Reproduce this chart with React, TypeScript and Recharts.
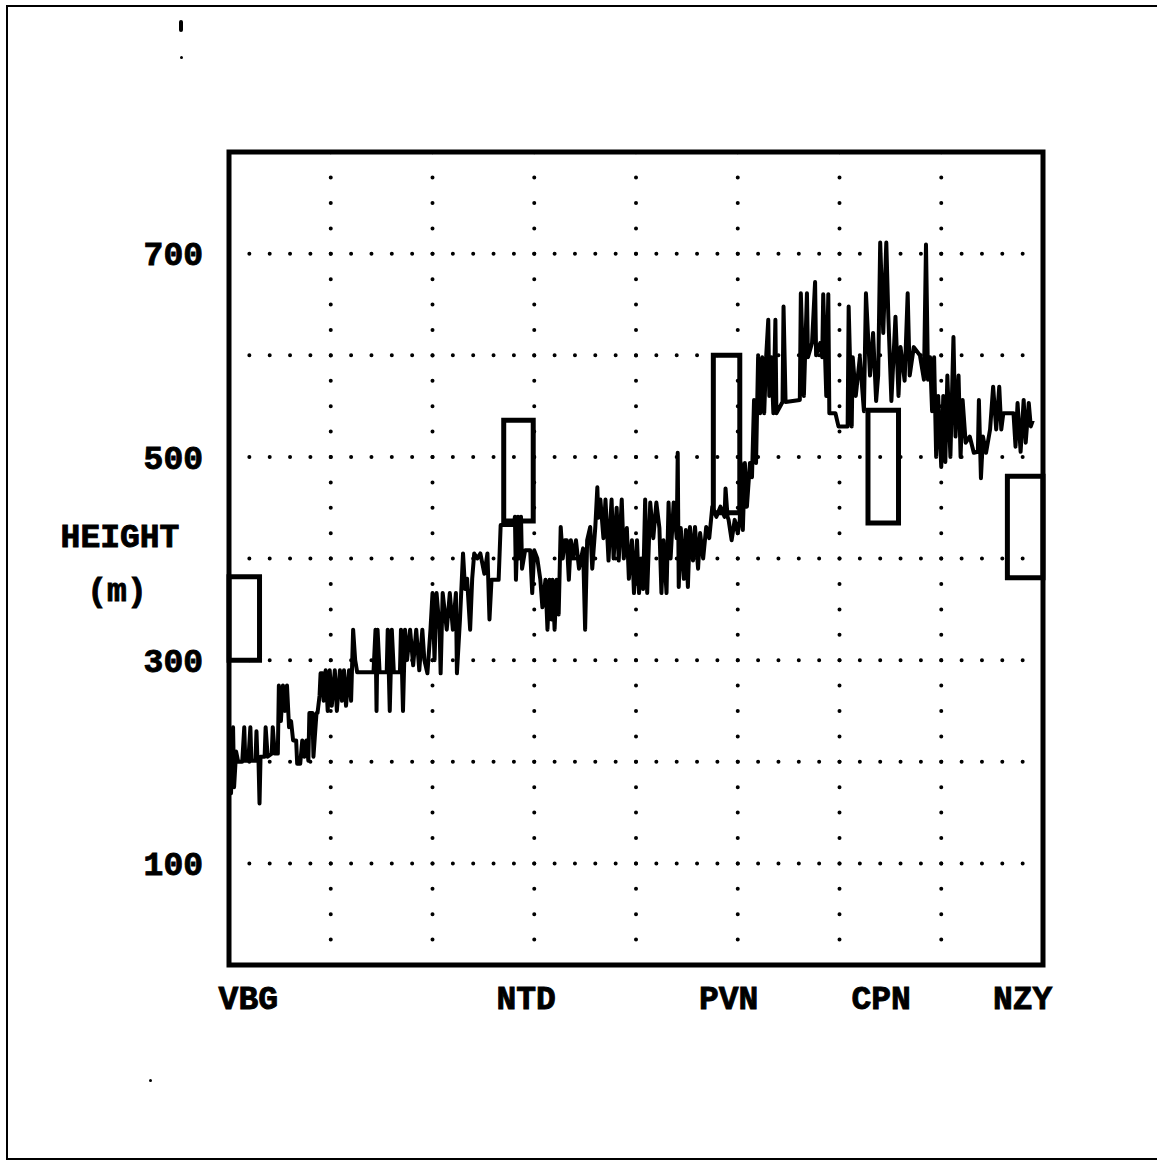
import React from 'react';
import { LineChart, Line, XAxis, YAxis, ReferenceArea, ReferenceLine } from 'recharts';

// Distance along the path (arbitrary units, VBG = 0 ... plot end = 800)
const distance = [
  0, 1, 2, 4, 5, 7, 9, 13, 15, 16, 19, 21, 22, 26, 27, 28, 29, 30, 31, 35, 36, 38, 42, 43, 45, 48, 49, 51, 53, 55,
  57, 59, 61, 63, 66, 67, 70, 72, 74, 76, 78, 79, 82, 83, 86, 87, 89, 90, 92, 93, 95, 97, 99, 101, 104, 106, 109, 111, 113, 115,
  118, 120, 122, 124, 126, 142, 144, 145, 146, 148, 155, 156, 158, 160, 162, 168, 169, 171, 173, 175, 178, 181, 184, 187, 190, 192, 195, 198, 200, 202,
  204, 207, 208, 210, 214, 217, 220, 223, 224, 227, 230, 232, 234, 237, 239, 241, 244, 247, 251, 254, 256, 258, 265, 267, 280, 281, 282, 284, 285, 287,
  288, 291, 296, 298, 300, 303, 306, 308, 311, 313, 315, 317, 318, 320, 322, 324, 326, 328, 330, 332, 334, 336, 338, 341, 344, 348, 350, 352, 355, 357,
  360, 362, 363, 365, 368, 370, 373, 375, 376, 378, 381, 383, 386, 388, 391, 393, 396, 398, 401, 403, 405, 407, 409, 411, 414, 417, 420, 423, 425, 427,
  430, 432, 434, 437, 440, 441, 442, 444, 447, 449, 451, 453, 456, 458, 461, 463, 466, 469, 472, 475, 479, 483, 487, 488, 490, 491, 494, 497, 500, 502,
  503, 505, 507, 509, 512, 514, 516, 518, 520, 522, 524, 526, 528, 530, 531, 533, 535, 537, 538, 544, 545, 547, 561, 562, 565, 568, 569, 573, 576, 577,
  581, 583, 584, 587, 589, 590, 596, 599, 608, 609, 612, 613, 616, 620, 624, 626, 630, 633, 636, 638, 640, 643, 646, 648, 651, 655, 658, 660, 664, 667,
  669, 673, 679, 683, 685, 687, 689, 691, 693, 695, 697, 700, 702, 704, 706, 709, 712, 714, 717, 719, 721, 724, 728, 732, 736, 737, 739, 741, 744, 748,
  751, 754, 757, 759, 761, 771, 773, 775, 778, 781, 783, 786, 788, 790,
];

// Terrain height (m)
const height = [
  180, 205, 169, 234, 175, 210, 200, 200, 234, 201, 201, 234, 201, 201, 230, 201, 201, 159, 205, 205, 234, 205, 208, 234, 208, 208, 275, 240, 275, 250,
  275, 234, 240, 221, 221, 198, 198, 221, 205, 221, 201, 248, 248, 205, 248, 248, 265, 287, 287, 260, 290, 250, 290, 255, 290, 250, 290, 260, 290, 255,
  290, 260, 330, 300, 288, 288, 330, 250, 330, 288, 288, 330, 250, 330, 288, 288, 330, 250, 330, 300, 330, 295, 330, 290, 330, 300, 287, 330, 366, 300,
  366, 330, 287, 366, 330, 366, 330, 366, 287, 340, 405, 370, 380, 330, 380, 405, 400, 405, 385, 405, 340, 379, 379, 433, 433, 441, 379, 441, 400, 441,
  390, 408, 408, 366, 408, 400, 379, 352, 379, 330, 379, 340, 379, 330, 379, 345, 431, 400, 418, 418, 379, 418, 400, 418, 390, 410, 330, 418, 431, 390,
  431, 470, 440, 458, 420, 458, 398, 440, 458, 400, 450, 398, 458, 400, 430, 380, 418, 366, 418, 366, 400, 370, 458, 366, 455, 420, 455, 430, 366, 418,
  366, 455, 400, 455, 420, 504, 372, 430, 380, 428, 372, 431, 398, 431, 390, 425, 400, 431, 420, 451, 441, 451, 441, 469, 441, 438, 418, 438, 425, 438,
  494, 428, 494, 451, 494, 480, 556, 494, 598, 543, 598, 543, 600, 635, 560, 598, 543, 635, 543, 554, 648, 554, 556, 661, 560, 661, 598, 612, 672, 600,
  612, 598, 660, 560, 660, 543, 543, 530, 530, 648, 530, 598, 560, 598, 545, 661, 580, 622, 555, 580, 711, 622, 711, 638, 555, 638, 560, 608, 575, 661,
  580, 608, 600, 576, 709, 576, 598, 545, 598, 500, 560, 490, 560, 495, 580, 500, 618, 520, 580, 500, 556, 514, 520, 504, 505, 556, 479, 520, 504, 527,
  569, 527, 569, 527, 543, 543, 510, 553, 505, 556, 514, 553, 530, 536,
];

// Stations: label, label position, and height-range boxes
const stationNames = ['VBG', 'NTD', 'PVN', 'CPN', 'NZY'];
const stationPos = [19, 292, 491, 641, 780];
const boxStart = [0, 270, 476, 628, 765];
const boxEnd = [30, 299, 502, 658, 800];
const boxLow = [300, 437, 445, 435, 381];
const boxHigh = [382, 536, 600, 546, 481];

const yTicks = [100, 300, 500, 700];
const hGrid = [100, 200, 300, 400, 500, 600, 700];
const vGrid = [100, 200, 300, 400, 500, 600, 700];

const data = distance.map((d, i) => ({ d, h: height[i] }));

const FONT = '"Liberation Mono", "DejaVu Sans Mono", monospace';
const tickStyle = {
  fill: '#000',
  stroke: '#000',
  strokeWidth: 0.9,
  fontSize: 33,
  fontWeight: 'bold',
  fontFamily: FONT,
};

export default function App() {
  return (
    <div style={{ position: 'absolute', left: 0, top: 0, width: 1157, height: 1166, overflow: 'hidden', background: '#fff' }}>
      <div style={{ position: 'absolute', left: 6, top: 5, width: 1170, height: 1151, border: '2px solid #000' }} />
      <div style={{ position: 'absolute', left: 179, top: 20, width: 4, height: 12, borderRadius: 3, background: '#000' }} />
      <div style={{ position: 'absolute', left: 180, top: 56, width: 3, height: 3, borderRadius: 2, background: '#000' }} />
      <div style={{ position: 'absolute', left: 149, top: 1079, width: 3, height: 3, borderRadius: 2, background: '#000' }} />
      <div style={{ position: 'absolute', left: 0, top: 0 }}>
        <LineChart width={1157} height={1166} data={data} margin={{ top: 152, right: 114, bottom: 121, left: 0 }}>
          <XAxis
            dataKey="d"
            type="number"
            domain={[0, 800]}
            ticks={stationPos}
            tickFormatter={(v, i) => stationNames[i]}
            tickLine={false}
            axisLine={false}
            tickSize={0}
            tickMargin={21}
            height={80}
            interval={0}
            tick={tickStyle}
          />
          <YAxis
            type="number"
            domain={[0, 800]}
            ticks={yTicks}
            tickLine={false}
            axisLine={false}
            tickSize={0}
            tickMargin={26}
            width={229}
            interval={0}
            tick={tickStyle}
            label={{
              content: () => (
                <g fontFamily={FONT} fontWeight="bold" fontSize={33} fill="#000" stroke="#000" strokeWidth={0.9} textAnchor="middle">
                  <text x={120} y={547}>HEIGHT</text>
                  <text x={117} y={601}>(m)</text>
                </g>
              ),
            }}
          />
          {hGrid.map((v) => (
            <ReferenceLine key={'h' + v} y={v} stroke="#000" strokeWidth={4} strokeLinecap="round" strokeDasharray="0 20.35" />
          ))}
          {vGrid.map((v) => (
            <ReferenceLine key={'v' + v} x={v} stroke="#000" strokeWidth={4} strokeLinecap="round" strokeDasharray="0 25.4" />
          ))}
          <Line
            type="linear"
            dataKey="h"
            stroke="#000"
            strokeWidth={4}
            strokeLinejoin="round"
            dot={false}
            isAnimationActive={false}
          />
          {stationNames.map((n, i) => (
            <ReferenceArea
              key={n}
              x1={boxStart[i]}
              x2={boxEnd[i]}
              y1={boxLow[i]}
              y2={boxHigh[i]}
              fill="none"
              stroke="#000"
              strokeWidth={5}
              ifOverflow="visible"
            />
          ))}
          <ReferenceArea x1={0} x2={800} y1={0} y2={800} fill="none" stroke="#000" strokeWidth={5} ifOverflow="visible" />
        </LineChart>
      </div>
    </div>
  );
}
